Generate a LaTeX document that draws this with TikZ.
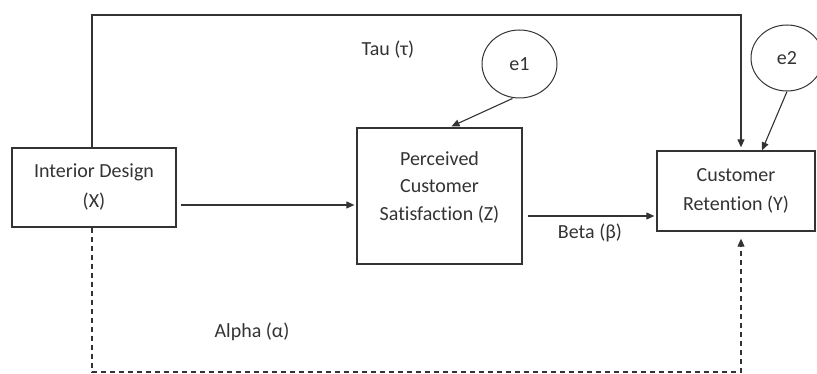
\documentclass[tikz,border=0pt]{standalone}
\usepackage{fontspec}
\setmainfont{Carlito}[Ligatures=NoCommon]
\usetikzlibrary{arrows.meta,shapes.geometric,calc}
\definecolor{ink}{HTML}{333333}
\begin{document}
\begin{tikzpicture}[x=1pt,y=-1pt,
  every node/.style={text=ink,font=\fontsize{20}{30}\selectfont},
  box/.style={draw=ink,line width=1.3pt,align=center,inner sep=0pt},
  err/.style={draw=ink,line width=1pt,ellipse,inner sep=0pt},
  conn/.style={draw=ink,line width=1.1pt,-{Triangle[length=8pt,width=7pt]}},
  dconn/.style={conn,dash pattern=on 5pt off 4pt},
  lbl/.style={inner sep=0pt}]
\useasboundingbox (0,0) rectangle (817,374);
\node[box,minimum width=164pt,minimum height=79pt] (X) at (94,187.5) {Interior Design\\(X)};
\node[box,minimum width=165pt,minimum height=136pt] (Z) at (439.5,196) {};
\node[lbl,align=center,font=\fontsize{20}{27.5}\selectfont] (Zt) at (439.5,187) {Perceived\\Customer\\Satisfaction (Z)};
\node[box,minimum width=158pt,minimum height=80pt,font=\fontsize{20}{29}\selectfont] (Y) at (736,191) {Customer\\Retention (Y)};
\node[err,minimum width=75pt,minimum height=68pt] (e1) at (519.5,64) {e1};
\node[err,minimum width=72pt,minimum height=66pt] (e2) at (787,58) {e2};
\node[lbl] (tau) at (388,50) {Tau (τ)};
\node[lbl] (beta) at (590,233) {Beta (β)};
\node[lbl] (alpha) at (252,332) {Alpha (α)};
\coordinate (tl) at (92,15);
\coordinate (tr) at (741,15);
\coordinate (bl) at (92,372);
\coordinate (br) at (741,372);
\draw[conn] (tl |- X.north) -- (tl) -- (tr) -- ($(tr |- Y.north)+(0,-3)$);
\draw[conn] ($(X.east)+(4,17.5)$) -- ($(Z.west)+(-2,9)$);
\draw[conn] ($(Z.east)+(5,20)$) -- ($(Y.west)+(-2,25)$);
\draw[conn] (e1.south) ++(-7,0) -- ($(Z.north)+(12,-1)$);
\draw[conn] (e2.south) -- ($(Y.north)+(26,0)$);
\draw[dconn] (bl |- X.south) -- (bl) -- (br) -- ($(br |- Y.south)+(0,7)$);
\end{tikzpicture}
\end{document}
